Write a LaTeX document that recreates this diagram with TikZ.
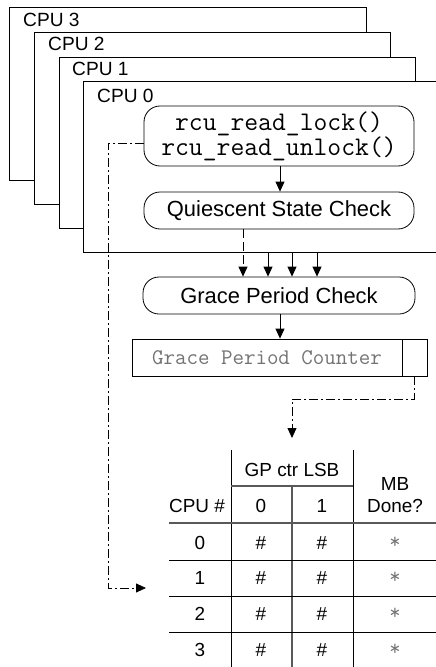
\documentclass[tikz,border=0pt]{standalone}
\usepackage{fontspec}
\setmainfont{Liberation Sans}
\usetikzlibrary{arrows.meta}
\tikzset{
  cpubox/.style={draw, fill=white, line width=0.8bp},
  cpulabel/.style={anchor=west, inner sep=0pt, font=\fontsize{19.2}{19.2}\selectfont},
  pill/.style={draw, line width=0.8bp, rounded corners=16bp, inner sep=0pt, align=center,
    font=\fontsize{22}{22}\selectfont},
  cell/.style={draw, line width=0.8bp, inner sep=0pt, minimum height=37bp},
  flow/.style={line width=0.8bp, -{Triangle[length=10bp,width=9bp]}},
  dashflow/.style={flow, dash pattern=on 9bp off 4bp},
  dotflow/.style={flow, dash pattern=on 9bp off 3bp on 2bp off 3bp},
  rule/.style={line width=0.8bp},
  grayrule/.style={line width=1.3bp, black!65},
  tabtext/.style={anchor=base, inner sep=0pt, font=\fontsize{19}{19}\selectfont},
}
\begin{document}
\begin{tikzpicture}[x=1bp,y=-1bp]
\useasboundingbox (0,0) rectangle (436,667);
\clip (0,0) rectangle (436,667);

% stacked per-CPU frames, back to front
\draw[cpubox] (9,7) rectangle (366,180);
\node[cpulabel] (l3) at (23,20) {CPU 3};
\draw[cpubox] (34,32) rectangle (390,204);
\node[cpulabel] (l2) at (48,44) {CPU 2};
\draw[cpubox] (59,57) rectangle (415,228);
\node[cpulabel] (l1) at (72,69) {CPU 1};
\draw[cpubox] (83,81) rectangle (450,252);
\node[cpulabel] (l0) at (97,96) {CPU 0};
\coordinate (cpubot) at (0,252);

% per-CPU activity
\node[pill, minimum width=270bp, minimum height=60bp,
  font=\ttfamily\fontsize{27}{23}\selectfont] (rcu) at (279,136)
  {rcu\_read\_lock()\\rcu\_read\_unlock()};
\node[pill, minimum width=270bp, minimum height=37bp] (qsc) at (279,210.5)
  {Quiescent State Check};

% global grace-period machinery
\node[pill, minimum width=272bp, minimum height=37bp] (gpc) at (279,295.5)
  {Grace Period Check};
\node[cell, minimum width=270bp, text=black!55,
  font=\ttfamily\fontsize{22.4}{22.4}\selectfont] (ctr) at (267,357.5)
  {Grace Period Counter};
\node[cell, minimum width=25bp] (lsb) at (414.5,357.5) {};

% connectors
\draw[flow] (rcu.south -| 280,0) -- (qsc.north -| 280,0);
\draw[dashflow] (qsc.south -| 243,0) -- (gpc.north -| 243,0);
\foreach \x in {268,292,317}
  \draw[flow] (cpubot -| \x,0) -- (gpc.north -| \x,0);
\draw[flow] (gpc.south -| 280,0) -- (ctr.north -| 280,0);

\coordinate (tabtop) at (292,438);
\coordinate (row2) at (146,588);
\draw[dotflow] (lsb.south) -- (414.5,399) -- (292,399) -- (tabtop);
\draw[dotflow] (rcu.west |- 0,143) -- (108,143) -- (108,588) -- (row2);

% table grid
\draw[rule] (231,450) -- (231,667);
\draw[rule] (353,450) -- (353,667);
\draw[grayrule] (231,486) -- (353,486);
\draw[grayrule] (292,486) -- (292,667);
\draw[grayrule] (169,523) -- (436,523);
\foreach \y in {560,596,632}
  \draw[rule] (169,\y) -- (436,\y);

% table header
\node[tabtext] (hgp) at (292,476) {GP ctr LSB};
\node[tabtext] (hmb) at (395,490) {MB};
\node[tabtext] (hdone) at (395,512) {Done?};
\node[tabtext] (hcpu) at (197,512) {CPU \#};
\node[tabtext] (h0) at (261,512) {0};
\node[tabtext] (h1) at (322,512) {1};

% table rows
\foreach \r/\y in {0/549,1/584,2/620,3/656}{
  \node[tabtext] (c\r) at (200,\y) {\r};
  \node[tabtext] (a\r) at (261,\y) {\#};
  \node[tabtext] (b\r) at (322,\y) {\#};
  \node[tabtext, text=black!55, font=\ttfamily\fontsize{22}{22}\selectfont] (m\r) at (395,\y-1) {*};
}
\end{tikzpicture}
\end{document}
